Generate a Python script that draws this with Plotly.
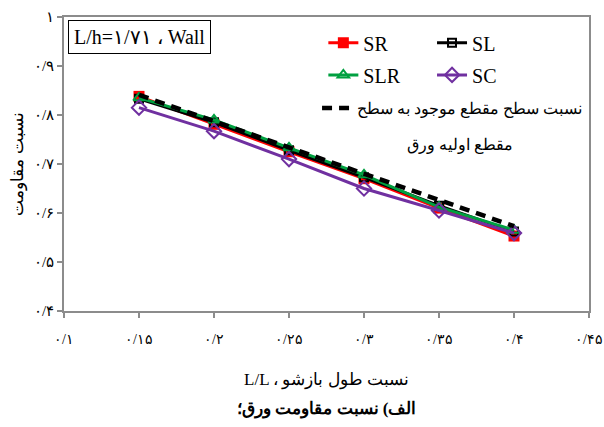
import plotly.graph_objects as go

# Opening length ratio (x) and plate resistance ratios per model
x_vals = [0.15, 0.2, 0.25, 0.3, 0.35, 0.4]
sr = [0.838, 0.781, 0.725, 0.670, 0.610, 0.553]
sl = [0.833, 0.785, 0.728, 0.673, 0.615, 0.562]
slr = [0.835, 0.790, 0.733, 0.678, 0.612, 0.565]
sc = [0.815, 0.767, 0.710, 0.650, 0.605, 0.559]
area_ratio = [0.841, 0.787, 0.734, 0.680, 0.627, 0.573]

x_ticks = [0.1, 0.15, 0.2, 0.25, 0.3, 0.35, 0.4, 0.45]
x_ticktext = ["٠/١", "٠/١۵", "٠/٢", "٠/٢۵", "٠/٣", "٠/٣۵", "٠/۴", "٠/۴۵"]
y_ticks = [0.4, 0.5, 0.6, 0.7, 0.8, 0.9, 1.0]
y_ticktext = ["٠/۴", "٠/۵", "٠/۶", "٠/٧", "٠/٨", "٠/٩", "١"]

serif = "Liberation Serif, Times New Roman, DejaVu Serif, serif"

fig = go.Figure()

# name, values, colour, marker, legend id, legend position (paper x, y)
series = [
    ("SR", sr, "#ff0000", dict(symbol="square", size=11, color="#ff0000"),
     "legend", (0.494, 0.912)),
    ("SL", sl, "#000000", dict(symbol="square-open", size=8, color="#000000", line=dict(width=2)),
     "legend2", (0.701, 0.912)),
    ("SLR", slr, "#00a040", dict(symbol="triangle-up-open", size=10, color="#00a040", line=dict(width=2)),
     "legend3", (0.494, 0.803)),
    ("SC", sc, "#7030a0", dict(symbol="diamond-open", size=11, color="#7030a0", line=dict(width=2)),
     "legend4", (0.701, 0.803)),
]
legend_layouts = {}
for name, ys, col, mk, lg, (lx, ly) in series:
    fig.add_trace(go.Scatter(
        x=x_vals, y=ys, name=name, mode="lines+markers",
        line=dict(color=col, width=3), marker=mk, legend=lg, showlegend=True,
    ))
    legend_layouts[lg] = dict(
        x=lx, y=ly, xanchor="left", yanchor="middle",
        font=dict(family=serif, size=20), bgcolor="rgba(0,0,0,0)",
        visible=True,
    )

fig.add_trace(go.Scatter(
    x=x_vals, y=area_ratio, name="نسبت سطح مقطع موجود به سطح",
    mode="lines", line=dict(color="#000000", width=4.5, dash="10px,7px"),
    legend="legend5", showlegend=True,
))
legend_layouts["legend5"] = dict(
    x=0.482, y=0.69, xanchor="left", yanchor="middle",
    font=dict(family=serif, size=16), bgcolor="rgba(0,0,0,0)",
)

fig.update_layout(
    width=604, height=427,
    margin=dict(l=64, r=15, t=17, b=116),
    paper_bgcolor="white", plot_bgcolor="white",
    font=dict(family=serif, color="#000000", size=16),
    showlegend=True,
    **legend_layouts,
    xaxis=dict(
        range=[0.1, 0.45], tickvals=x_ticks, ticktext=x_ticktext,
        showline=True, linecolor="#8c8c8c", linewidth=1.5, mirror=True,
        ticks="outside", tickcolor="#8c8c8c", ticklen=5, tickwidth=1.5,
        showgrid=False, zeroline=False, ticklabelstandoff=9,
        ticklabeloverflow="allow", automargin=False,
        tickfont=dict(size=14),
        title=dict(text="L/L ، نسبت طول بازشو", font=dict(size=17), standoff=28),
    ),
    yaxis=dict(
        range=[0.4, 1.0], tickvals=y_ticks, ticktext=y_ticktext,
        showline=True, linecolor="#8c8c8c", linewidth=1.5, mirror=True,
        ticks="outside", tickcolor="#8c8c8c", ticklen=5, tickwidth=1.5,
        showgrid=False, zeroline=False, automargin=False,
        tickfont=dict(size=15),
        title=dict(text="نسبت مقاومت", font=dict(size=17), standoff=6),
    ),
    annotations=[
        dict(text="L/h=١/٧١ ، Wall", xref="paper", yref="paper",
             x=0.008, y=0.99, xanchor="left", yanchor="top", showarrow=False,
             font=dict(family=serif, size=20), bordercolor="#000000",
             borderwidth=1, borderpad=5, bgcolor="white"),
        dict(text="مقطع اوليه ورق", xref="paper", yref="paper",
             x=0.754, y=0.565, xanchor="center", yanchor="middle",
             showarrow=False, font=dict(family=serif, size=16)),
        dict(text="<b>الف) نسبت مقاومت ورق؛</b>", xref="paper", yref="paper",
             x=0.5, y=-0.335, xanchor="center", yanchor="middle",
             showarrow=False, font=dict(family=serif, size=17)),
    ],
)

fig.write_html("out.html")
